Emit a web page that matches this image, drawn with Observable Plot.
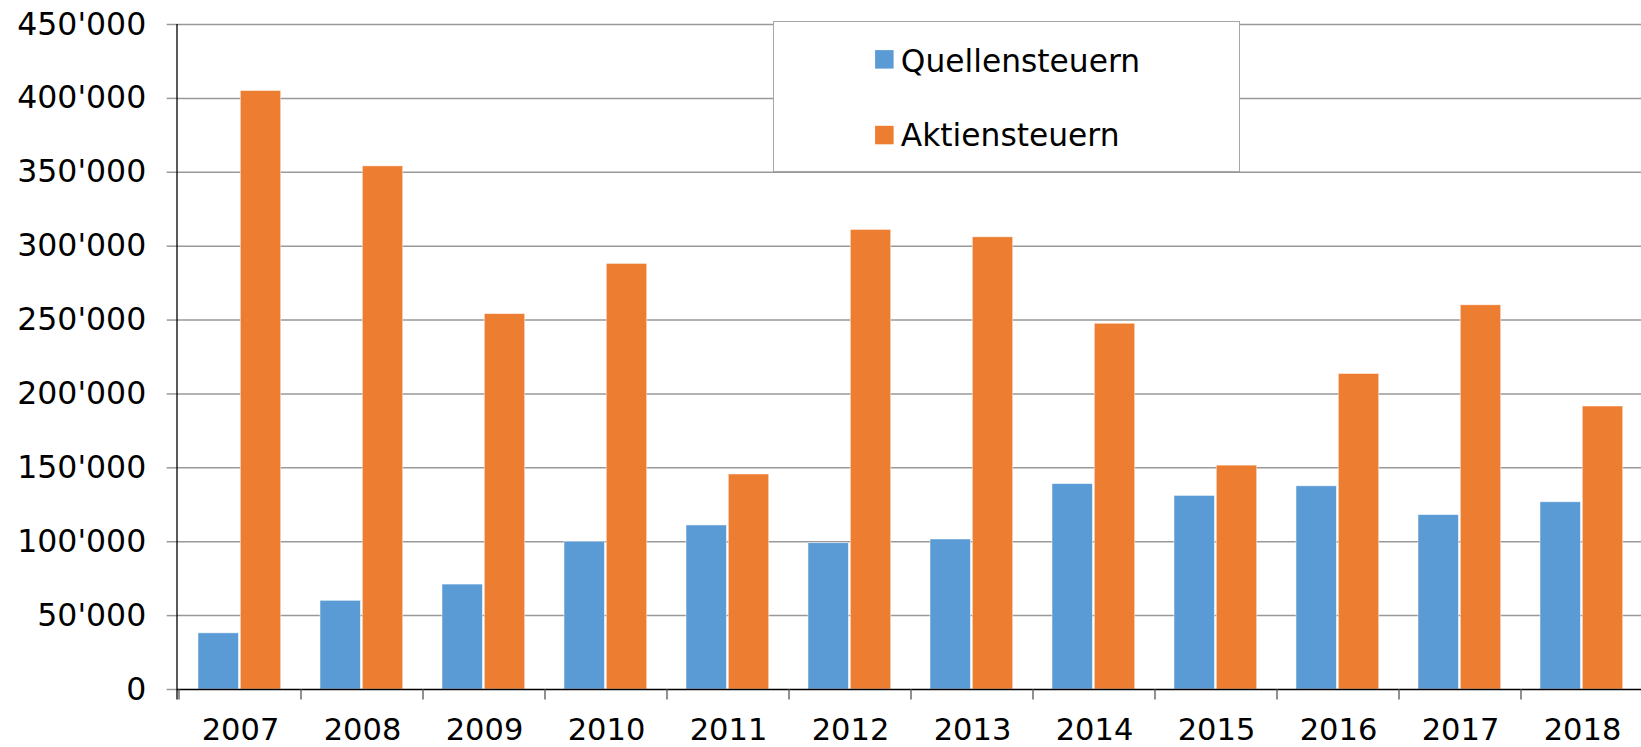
<!DOCTYPE html>
<html>
<head>
<meta charset="utf-8">
<script src="https://cdn.jsdelivr.net/npm/d3@7"></script>
<script src="https://cdn.jsdelivr.net/npm/@observablehq/plot@0.6"></script>
<style>
  html, body { margin: 0; padding: 0; background: #fff; overflow: hidden; }
  #wrap { position: relative; width: 1641px; height: 747px; overflow: hidden; }
  #legend { position: absolute; left: 772.7px; top: 20.7px; width: 467.3px; height: 151px;
            box-sizing: border-box; border: 1.5px solid #a6a6a6; background: #fff; }
  #legend svg { position: absolute; left: -1.5px; top: -1.5px; overflow: visible; }
</style>
</head>
<body>
<div id="wrap"></div>
<script>
// ---- data ----
const years = ["2007","2008","2009","2010","2011","2012","2013","2014","2015","2016","2017","2018"];
const quellensteuern = [38000, 60000, 71000, 100000, 111000, 99000, 101500, 139000, 131000, 137500, 118000, 126700];
const aktiensteuern = [405000, 354000, 254000, 288000, 145500, 311000, 306000, 247500, 151500, 213500, 260000, 191500];
const seriesNames = ["Quellensteuern", "Aktiensteuern"];
const seriesColors = ["#5B9BD5", "#ED7D31"];
const yTicks = [0, 50000, 100000, 150000, 200000, 250000, 300000, 350000, 400000, 450000];

const rows = years.flatMap((year, i) => [
  {year, series: seriesNames[0], value: quellensteuern[i]},
  {year, series: seriesNames[1], value: aktiensteuern[i]}
]);

const fmt = d3.formatLocale({decimal: ".", thousands: "'", grouping: [3], currency: ["", ""]}).format(",");
const FONT = "'DejaVu Sans', Verdana, sans-serif";

const chart = Plot.plot({
  width: 1645,
  height: 747,
  marginLeft: 177,
  marginRight: 0,
  marginTop: 24,
  marginBottom: 58,
  style: {fontFamily: FONT, fontSize: "31px", color: "#000", background: "#fff", maxWidth: "none", overflow: "visible"},
  x: {domain: years, padding: 0, label: null},
  y: {domain: [0, 450000], label: null},
  color: {domain: seriesNames, range: seriesColors},
  marks: [
    Plot.ruleY(yTicks.filter(d => d > 0), {stroke: "#999", strokeWidth: 1.5}),
    Plot.axisY({ticks: yTicks, tickFormat: fmt, tickSize: 10.3, tickPadding: 21, stroke: "#999", strokeWidth: 1.5, fontSize: 31.5, fill: "#000", label: null}),
    Plot.barY(rows.filter(d => d.series === seriesNames[0]), {
      x: "year", y: "value", fill: "series", insetLeft: 19, insetRight: 62.6,
      stroke: "#fff", strokeWidth: 0.8, strokeOpacity: 0.6
    }),
    Plot.barY(rows.filter(d => d.series === seriesNames[1]), {
      x: "year", y: "value", fill: "series", insetLeft: 61.3, insetRight: 20.3,
      stroke: "#fff", strokeWidth: 0.8, strokeOpacity: 0.6
    }),
    Plot.ruleY([0], {stroke: "#000", strokeWidth: 1.5}),
    Plot.axisX({tickSize: 0, tickPadding: 28.5, fontSize: 30.5, fill: "#000", label: null})
  ]
});

// axis line on the left and category separator ticks below the x axis
const xs = chart.scale("x");
const ys = chart.scale("y");
const svg = d3.select(chart);
const g = svg.append("g");
const x0 = xs.range[0];
g.append("line")
  .attr("x1", x0).attr("x2", x0)
  .attr("y1", ys.apply(450000)).attr("y2", ys.apply(0) + 10.5)
  .attr("stroke", "#000").attr("stroke-width", 1.3);
years.forEach(y => {
  const px = xs.apply(y);
  g.append("line")
    .attr("x1", px).attr("x2", px)
    .attr("y1", ys.apply(0)).attr("y2", ys.apply(0) + 10.5)
    .attr("stroke", "#555").attr("stroke-width", 1.3);
});

const wrap = document.getElementById("wrap");
wrap.appendChild(chart);

// legend box
const color = chart.scale("color");
const legend = document.createElement("div");
legend.id = "legend";
const NS = "http://www.w3.org/2000/svg";
const lsvg = document.createElementNS(NS, "svg");
lsvg.setAttribute("width", 467);
lsvg.setAttribute("height", 151);
const legendRows = [{top: 28.6, base: 50.0}, {top: 104.3, base: 124.6}];
seriesNames.forEach((name, i) => {
  const r = document.createElementNS(NS, "rect");
  r.setAttribute("x", 101.6 + 1.5);
  r.setAttribute("y", legendRows[i].top + 1.5);
  r.setAttribute("width", 18.5);
  r.setAttribute("height", 18.5);
  r.setAttribute("fill", color.apply(name));
  lsvg.appendChild(r);
  const t = document.createElementNS(NS, "text");
  t.setAttribute("x", 127.3 + 1.5);
  t.setAttribute("y", legendRows[i].base + 1.5);
  t.setAttribute("font-family", FONT);
  t.setAttribute("font-size", 31.3);
  t.setAttribute("fill", "#000");
  t.textContent = name;
  lsvg.appendChild(t);
});
legend.appendChild(lsvg);
wrap.appendChild(legend);
</script>
</body>
</html>
